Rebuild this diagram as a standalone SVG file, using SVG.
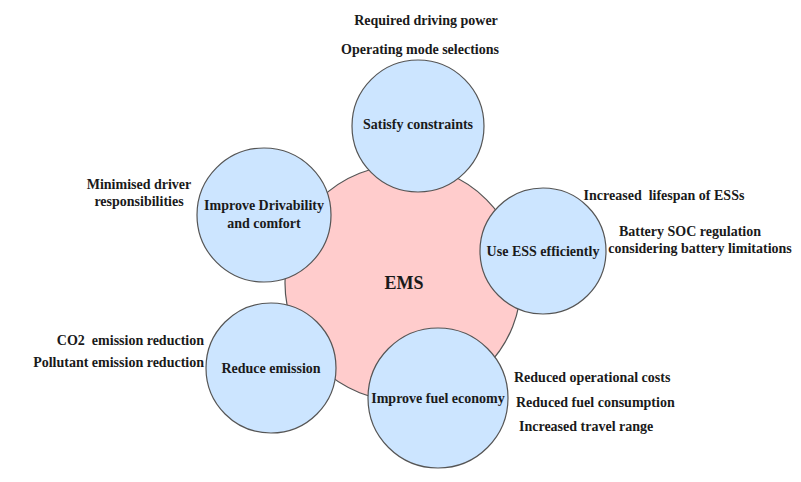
<svg xmlns="http://www.w3.org/2000/svg" width="801" height="482" viewBox="0 0 801 482">
<style>
text{font-family:"Liberation Serif","Times New Roman",serif;font-weight:bold;font-size:14px;fill:#1a1a1a;}
.c{text-anchor:middle;}
.r{text-anchor:end;}
.hub{fill:#ffcccc;stroke:#555;stroke-width:1.2;}
.sat{fill:#cce5ff;stroke:#555;stroke-width:1.2;}
.big{font-size:18px;}
</style>
<rect width="801" height="482" fill="#fff"/>
<g id="ems">
<circle class="hub" cx="403" cy="283" r="118"/>
<text class="c big" x="404" y="289">EMS</text>
</g>
<g id="connectors"/>
<g id="satisfy">
<circle class="sat" cx="418" cy="126" r="66"/>
<text class="c" x="418" y="129">Satisfy constraints</text>
<text class="c" x="426" y="25">Required driving power</text>
<text class="c" x="420" y="54">Operating mode selections</text>
</g>
<g id="drivability">
<circle class="sat" cx="264" cy="215" r="67"/>
<text class="c" x="264" y="210">Improve Drivability</text>
<text class="c" x="264" y="228">and comfort</text>
<text class="c" x="139" y="189">Minimised driver</text>
<text class="c" x="139" y="206">responsibilities</text>
</g>
<g id="ess">
<circle class="sat" cx="543" cy="251" r="63"/>
<text class="c" x="543" y="256">Use ESS efficiently</text>
<text class="c" x="664" y="200" xml:space="preserve">Increased  lifespan of ESSs</text>
<text class="c" x="690" y="236">Battery SOC regulation</text>
<text class="c" x="700" y="253">considering battery limitations</text>
</g>
<g id="emission">
<circle class="sat" cx="271" cy="368" r="65"/>
<text class="c" x="271" y="373">Reduce emission</text>
<text class="r" x="204" y="345" xml:space="preserve">CO2  emission reduction</text>
<text class="r" x="204" y="367">Pollutant emission reduction</text>
</g>
<g id="fuel">
<circle class="sat" cx="438" cy="398" r="70"/>
<text class="c" x="438" y="403">Improve fuel economy</text>
<text x="514" y="382">Reduced operational costs</text>
<text x="516" y="407">Reduced fuel consumption</text>
<text x="519" y="431">Increased travel range</text>
</g>
</svg>
